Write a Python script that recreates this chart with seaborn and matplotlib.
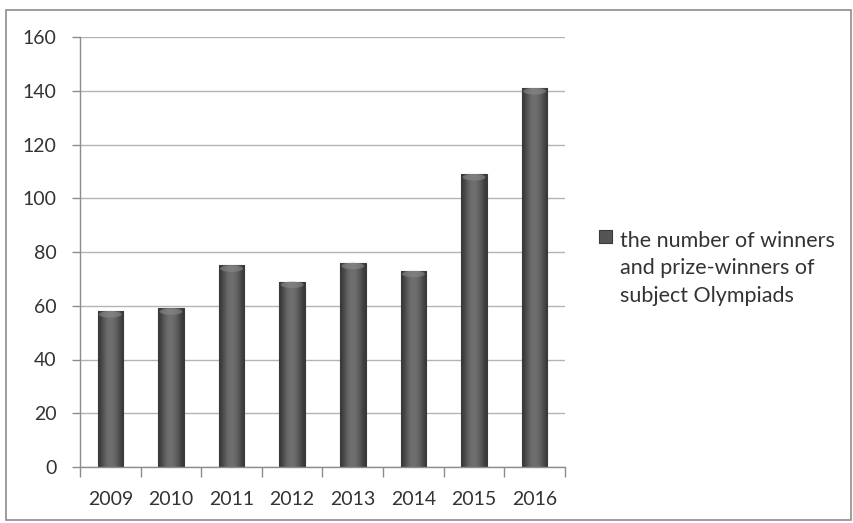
import matplotlib
matplotlib.use("Agg")
import matplotlib.pyplot as plt
import numpy as np
import pandas as pd
import seaborn as sns
from matplotlib.legend_handler import HandlerPatch
from matplotlib.patches import Ellipse, Rectangle

YEARS = ["2009", "2010", "2011", "2012", "2013", "2014", "2015", "2016"]
WINNERS = [58, 59, 75, 69, 76, 73, 109, 141]
SERIES_LABEL = "the number of winners\nand prize-winners of\nsubject Olympiads"
Y_TICKS = [0, 20, 40, 60, 80, 100, 120, 140, 160]

BAR_COLOR = "#555555"
GRID_COLOR = "#b4b4b4"
AXIS_COLOR = "#8c8c8c"
TEXT_COLOR = "#333333"


def top_square(legend, orig_handle, xdescent, ydescent, width, height, fontsize):
    # put the legend key next to the first line of the label, as Excel does
    size = fontsize * 0.62
    return Rectangle((-xdescent, -ydescent + height - size * 0.3), size, size)


def shade_bars(ax, bars):
    # cylinder look: dark edges, lighter middle, light elliptic cap
    gradient = np.array([[0.22, 0.30, 0.38, 0.43, 0.44, 0.42, 0.37, 0.30, 0.22]])
    for bar in bars:
        x0, w, h = bar.get_x(), bar.get_width(), bar.get_height()
        img = ax.imshow(gradient, cmap="gray", vmin=0, vmax=1, aspect="auto",
                        extent=(x0, x0 + w, 0, h), zorder=3, interpolation="bicubic")
        img.set_clip_path(bar)
        cap = Ellipse((x0 + w / 2, h - 1.2), w * 0.9, 2.4, facecolor="#8a8a8a",
                      edgecolor="none", alpha=0.6, zorder=4)
        ax.add_patch(cap)


def main() -> None:
    sns.set_theme(style="white")
    plt.rcParams["font.family"] = ["Lato", "DejaVu Sans"]

    df = pd.DataFrame({"year": YEARS, "winners": WINNERS})

    fig = plt.figure(figsize=(8.54, 5.23), dpi=100)
    ax = fig.add_axes([80 / 854, 1 - 467 / 523, (565 - 80) / 854, (467 - 37) / 523])

    sns.barplot(data=df, x="year", y="winners", color=BAR_COLOR, width=0.42,
                saturation=1, edgecolor="#3a3a3a", linewidth=0.8, ax=ax, zorder=3)
    shade_bars(ax, list(ax.patches))

    ax.set_ylim(0, 160)
    ax.set_xlim(-0.5, len(YEARS) - 0.5)
    ax.set_yticks(Y_TICKS)
    ax.grid(axis="y", color=GRID_COLOR, linewidth=1, zorder=0)
    ax.set_xlabel("")
    ax.set_ylabel("")

    for side in ["top", "right"]:
        ax.spines[side].set_visible(False)
    for side in ["left", "bottom"]:
        ax.spines[side].set_color(AXIS_COLOR)
        ax.spines[side].set_linewidth(1)
        ax.spines[side].set_zorder(5)

    ax.tick_params(axis="y", which="major", left=True, direction="out", length=6,
                   width=1, color=AXIS_COLOR, labelsize=14, labelcolor=TEXT_COLOR, pad=11)
    ax.tick_params(axis="x", which="major", bottom=False, length=0, labelsize=14,
                   labelcolor=TEXT_COLOR, pad=17)
    ax.set_xticks(np.arange(-0.5, len(YEARS), 1), minor=True)
    ax.tick_params(axis="x", which="minor", bottom=True, direction="out", length=7,
                   width=1, color=AXIS_COLOR)

    key = Rectangle((0, 0), 1, 1, facecolor=BAR_COLOR, edgecolor="#3a3a3a", linewidth=0.8)
    leg = ax.legend(handles=[key], labels=[SERIES_LABEL], loc="center left",
                    bbox_to_anchor=(1.03, 0.462), frameon=False,
                    fontsize=15.5, handlelength=0.7, handleheight=4.1, handletextpad=0.3,
                    labelspacing=0, labelcolor=TEXT_COLOR,
                    handler_map={Rectangle: HandlerPatch(patch_func=top_square)})
    leg.get_texts()[0].set_linespacing(1.45)

    fig.patches.append(Rectangle((6 / 854, 1 - 520 / 523), 845 / 854, 510 / 523,
                                 transform=fig.transFigure, fill=False,
                                 edgecolor=AXIS_COLOR, linewidth=1.2))

    fig.savefig("out.png", dpi=100)
    plt.close(fig)


if __name__ == "__main__":
    main()
